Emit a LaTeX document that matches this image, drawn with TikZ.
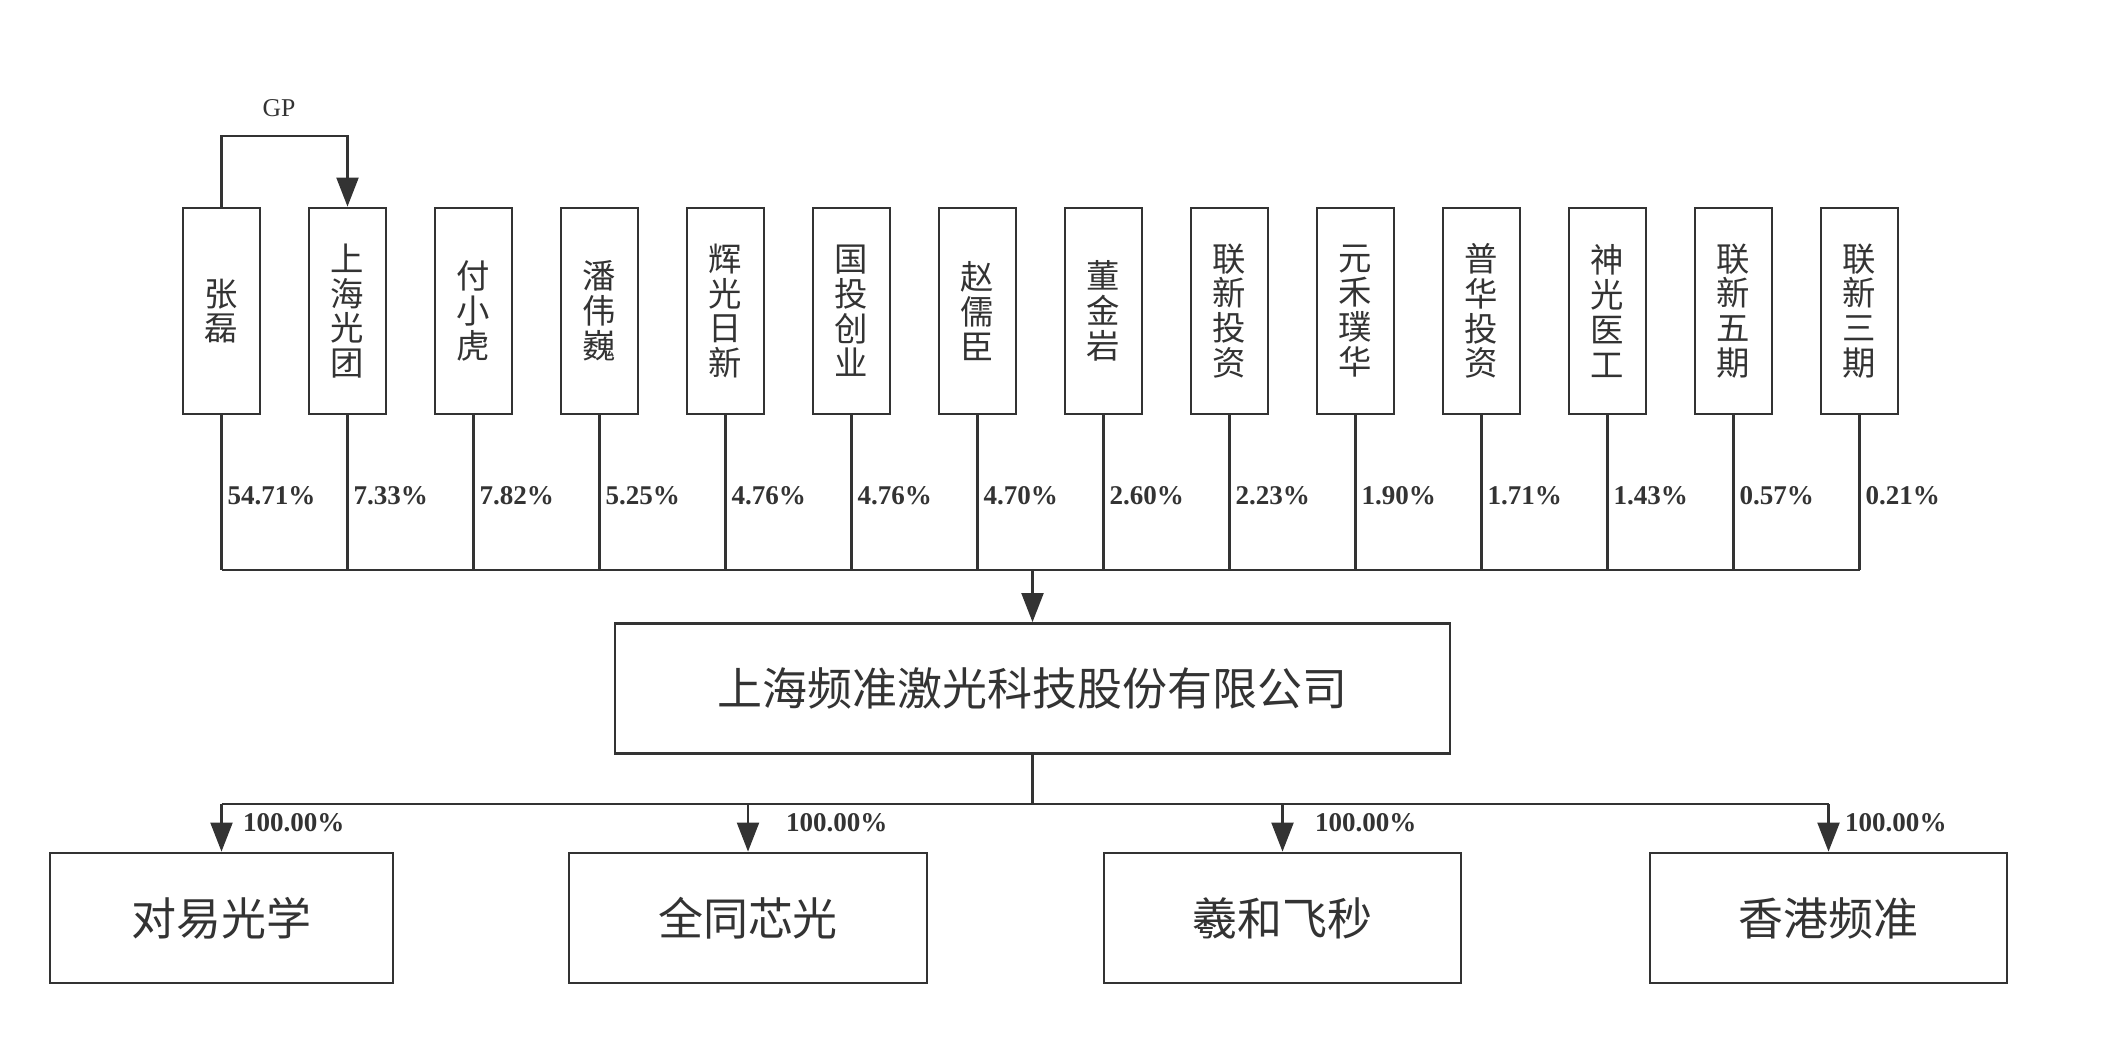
\documentclass[tikz,border=0pt]{standalone}
\usepackage{fontspec}
\setmainfont{Liberation Serif}
\newfontfamily\cjk{Noto Sans CJK SC}
\usetikzlibrary{arrows.meta}
\definecolor{linegray}{HTML}{333333}

\begin{document}
\begin{tikzpicture}[
    line width=0.6pt, draw=linegray,
    holder/.style={rectangle, draw=linegray, line width=0.8pt,
      minimum width=0.77cm, minimum height=2.06cm, inner sep=0pt,
      align=center, text=linegray,
      font=\cjk\fontsize{9.5}{9.9}\selectfont},
    company/.style={rectangle, draw=linegray, line width=0.8pt,
      minimum height=1.30cm, inner sep=0pt, text=linegray,
      font=\cjk\fontsize{12.8}{14}\selectfont},
    pct/.style={anchor=west, inner sep=0pt, text=linegray,
      font=\bfseries\fontsize{7.7}{9}\selectfont},
    arr/.style={-{Triangle[length=0.29cm, width=0.22cm]}, draw=linegray}
  ]

\useasboundingbox (0,0) rectangle (21.08,-10.54);

% shareholders
\node[holder] (zl)   at (2.215,-3.11)  {张\\磊};
\node[holder] (shgt) at (3.475,-3.11)  {上\\海\\光\\团};
\node[holder] (fxh)  at (4.735,-3.11)  {付\\小\\虎};
\node[holder] (pww)  at (5.995,-3.11)  {潘\\伟\\巍};
\node[holder] (hgrx) at (7.255,-3.11)  {辉\\光\\日\\新};
\node[holder] (gtcy) at (8.515,-3.11)  {国\\投\\创\\业};
\node[holder] (zrc)  at (9.775,-3.11)  {赵\\儒\\臣};
\node[holder] (djy)  at (11.035,-3.11) {董\\金\\岩};
\node[holder] (lxtz) at (12.295,-3.11) {联\\新\\投\\资};
\node[holder] (yhph) at (13.555,-3.11) {元\\禾\\璞\\华};
\node[holder] (phtz) at (14.815,-3.11) {普\\华\\投\\资};
\node[holder] (sgyg) at (16.075,-3.11) {神\\光\\医\\工};
\node[holder] (lxwq) at (17.335,-3.11) {联\\新\\五\\期};
\node[holder] (lxsq) at (18.595,-3.11) {联\\新\\三\\期};

% GP link
\node[inner sep=0pt, text=linegray, font=\fontsize{7.3}{9}\selectfont]
  (gp) at (2.79,-1.08) {GP};
\draw[arr] (zl.north) -- ++(0,0.71) -| (shgt.north);

% shares
\coordinate (bus) at (0,-5.70);
\foreach \n in {zl,shgt,fxh,pww,hgrx,gtcy,zrc,djy,lxtz,yhph,phtz,sgyg,lxwq,lxsq}
  \draw (\n.south) -- (\n.south |- bus);
\draw (zl.south |- bus) -- (lxsq.south |- bus);

\node[pct] (p1)  at ([xshift=0.05cm]zl.south   |- 0,-4.96) {54.71\%};
\node[pct] (p2)  at ([xshift=0.05cm]shgt.south |- 0,-4.96) {7.33\%};
\node[pct] (p3)  at ([xshift=0.05cm]fxh.south  |- 0,-4.96) {7.82\%};
\node[pct] (p4)  at ([xshift=0.05cm]pww.south  |- 0,-4.96) {5.25\%};
\node[pct] (p5)  at ([xshift=0.05cm]hgrx.south |- 0,-4.96) {4.76\%};
\node[pct] (p6)  at ([xshift=0.05cm]gtcy.south |- 0,-4.96) {4.76\%};
\node[pct] (p7)  at ([xshift=0.05cm]zrc.south  |- 0,-4.96) {4.70\%};
\node[pct] (p8)  at ([xshift=0.05cm]djy.south  |- 0,-4.96) {2.60\%};
\node[pct] (p9)  at ([xshift=0.05cm]lxtz.south |- 0,-4.96) {2.23\%};
\node[pct] (p10) at ([xshift=0.05cm]yhph.south |- 0,-4.96) {1.90\%};
\node[pct] (p11) at ([xshift=0.05cm]phtz.south |- 0,-4.96) {1.71\%};
\node[pct] (p12) at ([xshift=0.05cm]sgyg.south |- 0,-4.96) {1.43\%};
\node[pct] (p13) at ([xshift=0.05cm]lxwq.south |- 0,-4.96) {0.57\%};
\node[pct] (p14) at ([xshift=0.05cm]lxsq.south |- 0,-4.96) {0.21\%};

% issuer
\node[company, minimum width=8.35cm] (main) at (10.325,-6.885)
  {上海频准激光科技股份有限公司};
\draw[arr] (main.north |- bus) -- (main.north);

% subsidiaries
\node[company, minimum width=3.43cm] (dygx) at (2.215,-9.18)  {对易光学};
\node[company, minimum width=3.58cm] (qtxg) at (7.48,-9.18)   {全同芯光};
\node[company, minimum width=3.57cm] (xhfm) at (12.825,-9.18) {羲和飞秒};
\node[company, minimum width=3.57cm] (xgpz) at (18.285,-9.18) {香港频准};

\coordinate (split) at (0,-8.04);
\draw (main.south) -- (main.south |- split);
\draw (dygx.north |- split) -- (xgpz.north |- split);
\foreach \n in {dygx,qtxg,xhfm,xgpz}
  \draw[arr] (\n.north |- split) -- (\n.north);

\node[pct] (s1) at (2.42,-8.23)  {100.00\%};
\node[pct] (s2) at (7.85,-8.23)  {100.00\%};
\node[pct] (s3) at (13.14,-8.23) {100.00\%};
\node[pct] (s4) at (18.44,-8.23) {100.00\%};

\end{tikzpicture}
\end{document}
